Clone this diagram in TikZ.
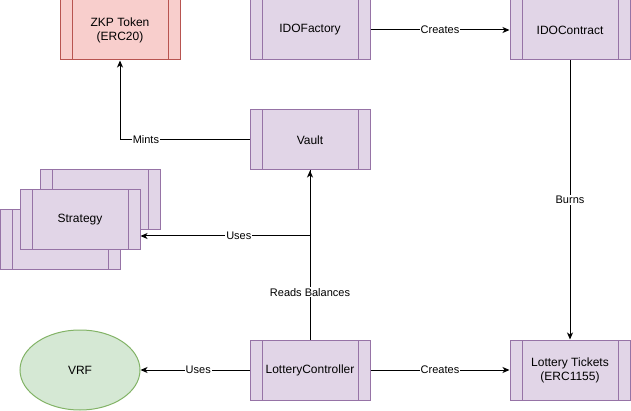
\documentclass[tikz,border=0pt]{standalone}
\usepackage{fontspec}
\setmainfont{Liberation Sans}
\usetikzlibrary{arrows.meta,shapes.geometric}
\definecolor{redF}{HTML}{F8CECC}
\definecolor{redS}{HTML}{B85450}
\definecolor{purF}{HTML}{E1D5E7}
\definecolor{purS}{HTML}{9673A6}
\definecolor{grnF}{HTML}{D5E8D4}
\definecolor{grnS}{HTML}{82B366}
\tikzset{
  proc/.style 2 args={draw=#2, fill=#1, line width=1pt, minimum width=120pt, minimum height=60pt,
    inner sep=0pt, align=center, font=\fontsize{12}{14}\selectfont,
    path picture={\draw[#2, line width=1pt]
      ([xshift=12pt]path picture bounding box.north west) -- ([xshift=12pt]path picture bounding box.south west)
      ([xshift=-12pt]path picture bounding box.north east) -- ([xshift=-12pt]path picture bounding box.south east);}},
  pproc/.style={proc={purF}{purS}},
  conn/.style={draw=black, line width=1pt, -{Stealth[length=7pt,width=6pt,inset=2pt]}},
  lbl/.style={fill=white, inner sep=1pt, font=\fontsize{11}{13}\selectfont},
}
\begin{document}
\begin{tikzpicture}[x=1pt,y=-1pt]
\useasboundingbox (0,0) rectangle (631,411);
\node[proc={redF}{redS}] (zkp) at (120,30) {ZKP Token\\(ERC20)};
\node[pproc] (fac) at (310,30) {IDOFactory};
\node[pproc] (con) at (570,30) {IDOContract};
\node[pproc] (vault) at (310,140) {Vault};
\node[pproc] (s1) at (100,200) {};
\node[pproc] (s3) at (60,240) {};
\node[pproc] (s2) at (80,220) {Strategy};
\node[pproc] (lc) at (310,370) {LotteryController};
\node[pproc] (lt) at (570,370) {Lottery Tickets\\(ERC1155)};
\node[ellipse, draw=grnS, fill=grnF, line width=1pt, minimum width=120pt, minimum height=80pt,
  inner sep=0pt, font=\fontsize{12}{14}\selectfont] (vrf) at (80,370) {VRF};

\draw[conn] (fac) -- node[lbl] {Creates} (con);
\draw[conn] (con) -- node[lbl, pos=0.5] {Burns} (lt);
\draw[conn] (lc) -- node[lbl] {Creates} (lt);
\draw[conn] (lc) -- node[lbl, pos=0.47] {Uses} (vrf);
\draw[conn] (vault.west) -| node[lbl, pos=0.40] {Mints} (zkp.south);
\draw[conn] (lc.north) -- node[lbl, pos=0.28] {Reads Balances} (vault.south);
\draw[conn] (vault.south) |- node[lbl, pos=0.71] {Uses} ([yshift=-16pt]s2.east);
\end{tikzpicture}
\end{document}
